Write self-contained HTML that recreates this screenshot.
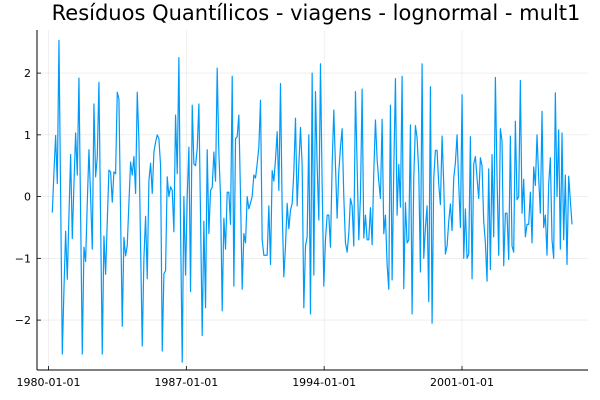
<!DOCTYPE html>
<html><head><meta charset="utf-8">
<style>
html,body{margin:0;padding:0;background:#fff;}
svg{display:block;font-family:"DejaVu Sans","Liberation Sans",sans-serif;}
</style></head>
<body>
<svg id="chart" width="600" height="400" viewBox="0 0 600 400">
<text x="316" y="20" text-anchor="middle" font-size="21" fill="#000">Resíduos Quantílicos - viagens - lognormal - mult1</text>
<g id="grid"></g>
<g id="axes"></g>
<g id="series"></g>
</svg>
<script>
const startYear = 1980;
const startMonth = 2; // March (0-based)
const residuals = [
-0.26,0.4,0.99,0.21,2.53,0.0,-2.55,-1.5,-0.56,-1.34,
-0.3,0.68,-0.68,0.2,1.03,0.35,1.92,-0.3,-2.55,-0.82,
-1.05,-0.1,0.76,0.0,-0.85,1.5,0.32,0.64,1.85,-0.4,
-2.55,-0.64,-1.26,-0.4,0.43,0.4,-0.09,0.4,0.37,1.69,
1.58,-0.3,-2.1,-0.66,-0.96,-0.79,-0.1,0.56,0.35,0.65,
0.05,1.69,0.91,-0.8,-2.42,-1.0,-0.32,-1.33,0.26,
0.54,0.05,0.72,0.88,1.0,0.94,0.5,-2.5,-1.25,-1.2,0.32,0.0,0.16,0.1,-0.57,1.32,0.37,2.25,-0.5,-2.68,0.0,-1.27,0.0,0.8,-1.54,1.48,0.53,0.5,0.78,1.5,-0.33,-2.25,-0.4,-1.8,0.76,-0.6,0.1,0.15,0.72,0.25,2.08,0.7,0.0,-1.85,-0.35,-0.85,0.07,0.07,-0.45,1.95,-1.45,0.94,0.97,1.32,0.0,-1.5,-0.6,-0.75,0.0,-0.2,-0.1,0.0,0.35,
0.3,0.53,0.8,1.56,-0.7,-0.95,-0.95,-0.95,-0.15,-1.1,0.42,0.25,0.6,1.05,0.1,1.83,-0.2,-1.3,-0.8,-0.11,-0.52,-0.22,-0.11,0.4,1.27,-0.15,0.5,1.12,0.5,-1.8,-0.8,-0.65,1.0,-1.9,2.0,-1.27,1.7,0.5,-0.38,2.15,0.2,-1.45,-0.7,-0.3,-0.3,-0.82,0.5,1.4,0.5,-0.35,0.4,0.8,1.1,0.0,-0.75,-0.9,-0.6,-0.03,-0.15,-0.8,1.7,0.5,-0.7,
0.0,1.74,-0.67,-0.3,-0.7,-0.7,-0.18,-0.78,0.4,1.24,0.6,0.25,-0.03,1.25,-0.6,-0.3,-1.1,-1.5,1.48,-1.35,0.4,1.91,-0.3,0.52,-0.17,1.95,-1.49,-0.1,-0.75,-0.7,1.16,-1.9,0.3,1.15,0.95,0.4,-1.22,2.15,-1.0,-0.5,-0.15,-1.7,1.78,-2.05,0.3,0.75,0.75,0.2,-0.13,0.98,0.2,-0.93,-0.8,-0.4,-0.12,-0.55,0.3,0.55,1.0,0.2,-0.5,1.65,-1.0,
-0.2,-1.0,-0.93,0.97,-1.33,0.53,0.65,0.3,-0.03,0.63,0.5,-0.4,-0.75,-1.37,0.45,-1.18,0.68,-0.65,1.93,0.3,-0.95,1.1,0.9,-1.12,-0.27,-0.27,-1.02,0.98,-0.8,-0.9,1.22,-0.05,0.0,1.88,-0.27,0.28,-0.65,-0.45,-0.45,0.07,-0.75,0.48,0.18,1.0,0.3,-0.27,1.38,-0.5,-0.3,-0.95,0.2,0.63,-0.7,-1.0,1.68,0.0,1.08,-0.85,1.03,-0.7,0.35,-1.1,0.33,-0.06,-0.45
];
const xTickYears = [1980,1987,1994,2001];
const xTickLabels = ["1980-01-01","1987-01-01","1994-01-01","2001-01-01"];
const yTicks = [-2,-1,0,1,2];

const NS = "http://www.w3.org/2000/svg";
const L = 37, R = 588, T = 30, B = 370;
const xFirst = 52.3, xLast = 572;
function xScaleIdx(i){ return xFirst + i * (xLast - xFirst) / (residuals.length - 1); }
function xScale(monthsSince1980){ return 48.5 + monthsSince1980 * (413.5/252); }
function yScale(v){ return 196.6 - v * 61.75; }
function mk(tag, attrs, parent){
  const e = document.createElementNS(NS, tag);
  for (const k in attrs) e.setAttribute(k, attrs[k]);
  parent.appendChild(e); return e;
}
const grid = document.getElementById('grid');
const axes = document.getElementById('axes');
const series = document.getElementById('series');

yTicks.forEach(v => {
  const y = yScale(v);
  const g = mk('line',{x1:L,x2:R,y1:y,y2:y,stroke:'#000','stroke-opacity':0.1,'stroke-width':0.6},grid);
  
  
  const t = mk('line',{x1:L,x2:L+4,y1:y,y2:y,stroke:'#000','stroke-width':0.8},axes);
  
  
  const lab = mk('text',{x:L-6,y:y+4,'text-anchor':'end','font-size':11,fill:'#000'},axes);
  lab.textContent = v < 0 ? '\u2212' + Math.abs(v) : String(v);
  
  
});
xTickYears.forEach((yr,i) => {
  const x = xScale((yr-1980)*12);
  const g = mk('line',{x1:x,x2:x,y1:T,y2:B,stroke:'#000','stroke-opacity':0.1,'stroke-width':0.6},grid);
  
  
  const t = mk('line',{x1:x,x2:x,y1:B,y2:B-4,stroke:'#000','stroke-width':0.8},axes);
  
  
  const lab = mk('text',{x:x,y:B+16,'text-anchor':'middle','font-size':11,fill:'#000'},axes);
  lab.textContent = xTickLabels[i];
  
  
});
const ya = mk('line',{x1:L,x2:L,y1:T,y2:B,stroke:'#000','stroke-width':1},axes);


const xa = mk('line',{x1:L,x2:R,y1:B,y2:B,stroke:'#000','stroke-width':1},axes);



const pts = residuals.map((v,i) => xScaleIdx(i).toFixed(2) + ',' + yScale(v).toFixed(2)).join(' ');
const line = mk('polyline',{points:pts,fill:'none',stroke:'#009af9','stroke-width':1.2,'stroke-linejoin':'round'},series);


</script>
</body></html>
